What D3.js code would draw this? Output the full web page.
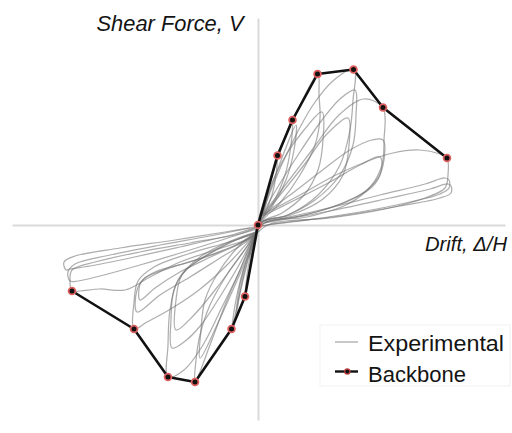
<!DOCTYPE html>
<html>
<head>
<meta charset="utf-8">
<script src="https://cdn.jsdelivr.net/npm/d3@7"></script>
<style>
  body { margin: 0; background: #fff; }
  text { font-family: "Liberation Sans", Arial, sans-serif; fill: #141414; }
</style>
</head>
<body>
<svg id="chart" width="512" height="433"></svg>
<script>
// Backbone envelope: [drift ratio %, shear force kN]
const backbone = [
  [-3.72, -132], [-2.48, -208], [-1.80, -304], [-1.26, -314], [-0.53, -208], [-0.26, -143],
  [0, 0], [0.39, 139], [0.69, 210], [1.19, 302], [1.91, 311], [2.50, 235], [3.78, 134]
];

// Recorded hysteresis cycles: [drift ratio %, shear force kN]
const cycle01 = [[-0.06,-16],[0,0],[0.08,32],[0.20,70],[0.16,44],[0.08,18],[0,0],[-0.08,-30],[-0.18,-66],[-0.14,-42],[-0.06,-18],[0,-2]];
const cycle02 = [[-0.04,-10],[0.02,14],[0.16,64],[0.28,106],[0.38,138],[0.36,100],[0.28,60],[0.14,24],[0.02,2],[-0.06,-26],[-0.16,-80],[-0.26,-142],[-0.22,-100],[-0.14,-54],[-0.06,-22],[0,-2]];
const cycle03 = [[-0.04,-14],[0.04,16],[0.20,74],[0.44,146],[0.68,210],[0.66,160],[0.54,100],[0.30,44],[0.06,8],[-0.06,-22],[-0.24,-86],[-0.40,-154],[-0.52,-208],[-0.46,-160],[-0.34,-106],[-0.16,-50],[-0.04,-14]];
const cycle04 = [[-0.04,-14],[0.06,18],[0.28,80],[0.54,150],[0.76,200],[0.72,150],[0.56,90],[0.28,36],[0.04,6],[-0.08,-26],[-0.24,-80],[-0.36,-134],[-0.44,-186],[-0.40,-142],[-0.30,-94],[-0.14,-46],[-0.02,-10]];
const cycle05 = [[-0.04,-14],[0.06,22],[0.28,100],[0.54,174],[0.84,240],[1.20,302],[1.22,260],[1.24,214],[1.14,160],[0.84,100],[0.44,44],[0.10,10],[-0.08,-26],[-0.36,-90],[-0.66,-160],[-0.96,-240],[-1.26,-314],[-1.24,-270],[-1.16,-220],[-0.96,-160],[-0.60,-96],[-0.20,-40],[-0.02,-10]];
const cycle06 = [[-0.04,-14],[0.08,22],[0.26,80],[0.56,140],[0.92,190],[1.28,226],[1.30,170],[1.20,110],[0.92,60],[0.48,24],[0.08,6],[-0.08,-26],[-0.26,-74],[-0.52,-134],[-0.82,-200],[-1.16,-266],[-1.14,-210],[-1.06,-150],[-0.80,-96],[-0.36,-40],[-0.04,-14]];
const cycle07 = [[0.08,20],[0.30,80],[0.66,160],[1.10,240],[1.52,290],[1.92,312],[1.90,250],[1.84,190],[1.64,120],[1.20,60],[0.60,20],[0.10,6],[-0.12,-30],[-0.36,-90],[-0.70,-160],[-1.10,-240],[-1.48,-290],[-1.80,-304],[-1.80,-240],[-1.76,-170],[-1.60,-110],[-1.16,-64],[-0.50,-30],[-0.04,-14]];
const cycle08 = [[0.08,20],[0.36,70],[0.80,140],[1.28,210],[1.66,254],[1.94,270],[1.96,220],[1.90,160],[1.64,100],[1.14,50],[0.54,18],[0.08,6],[-0.12,-30],[-0.38,-80],[-0.74,-140],[-1.14,-200],[-1.48,-234],[-1.72,-246],[-1.74,-190],[-1.68,-130],[-1.44,-90],[-0.94,-56],[-0.40,-28],[-0.04,-14]];
const cycle09 = [[0.08,18],[0.44,60],[0.92,120],[1.36,180],[1.80,214],[1.82,160],[1.70,100],[1.30,52],[0.66,20],[0.08,6],[-0.12,-28],[-0.44,-74],[-0.86,-130],[-1.28,-180],[-1.64,-210],[-1.64,-150],[-1.52,-100],[-1.12,-66],[-0.54,-34],[-0.04,-16]];
const cycle10 = [[0.10,22],[0.50,74],[1.08,150],[1.62,220],[2.12,252],[2.50,234],[2.52,170],[2.48,120],[2.26,78],[1.80,42],[0.98,16],[0.14,4],[-0.16,-30],[-0.62,-80],[-1.18,-130],[-1.78,-170],[-2.22,-194],[-2.48,-208],[-2.48,-155],[-2.40,-112],[-2.08,-84],[-1.40,-58],[-0.58,-34],[-0.04,-16]];
const cycle11 = [[0.10,20],[0.64,60],[1.24,106],[1.84,150],[2.28,170],[2.50,170],[2.52,130],[2.40,94],[2.04,60],[1.44,34],[0.74,16],[0.12,4],[-0.16,-28],[-0.76,-66],[-1.36,-104],[-1.96,-140],[-2.42,-174],[-2.42,-130],[-2.26,-106],[-1.76,-86],[-0.96,-60],[-0.26,-32],[-0.02,-14]];
const cycle12 = [[0.10,18],[0.74,50],[1.44,86],[2.04,120],[2.44,136],[2.46,106],[2.28,76],[1.74,46],[0.94,20],[0.12,4],[-0.16,-26],[-0.86,-60],[-1.56,-94],[-2.06,-126],[-2.36,-150],[-2.34,-114],[-2.06,-94],[-1.36,-74],[-0.56,-46],[-0.04,-16]];
const cycle13 = [[0.12,22],[0.84,60],[1.64,104],[2.70,144],[3.24,150],[3.64,142],[3.78,134],[3.80,100],[3.74,74],[3.34,54],[2.54,32],[1.44,14],[0.24,2],[-0.16,-26],[-0.86,-50],[-1.56,-74],[-2.16,-104],[-2.66,-130],[-3.16,-128],[-3.56,-132],[-3.72,-132],[-3.76,-110],[-3.72,-90],[-3.26,-74],[-2.36,-54],[-1.36,-36],[-0.46,-20],[-0.02,-8]];
const cycle14 = [[0.14,6],[1.24,30],[2.44,60],[3.34,82],[3.74,94],[3.82,90],[3.82,74],[3.64,62],[3.04,46],[2.04,26],[0.84,8],[0.08,-2],[-0.36,-18],[-1.36,-50],[-2.36,-80],[-3.16,-102],[-3.60,-112],[-3.76,-112],[-3.80,-94],[-3.66,-78],[-2.96,-60],[-1.96,-40],[-0.96,-22],[-0.16,-6]];
const cycle15 = [[0.14,4],[1.44,28],[2.64,54],[3.44,72],[3.80,82],[3.86,78],[3.86,64],[3.64,54],[2.84,38],[1.64,18],[0.44,4],[0,-4],[-0.46,-18],[-1.56,-44],[-2.56,-66],[-3.36,-82],[-3.76,-88],[-3.84,-90],[-3.88,-74],[-3.66,-62],[-2.76,-46],[-1.66,-30],[-0.66,-14],[-0.06,-4]];

const experimental = [cycle01, cycle02, cycle03, cycle04, cycle05, cycle06, cycle07, cycle08,
                      cycle09, cycle10, cycle11, cycle12, cycle13, cycle14, cycle15];

const legendLabels = ["Experimental", "Backbone"];
const xTitle = "Drift, \u0394/H";
const yTitle = "Shear Force, V";

const svg = d3.select("#chart");

const x = d3.scaleLinear().domain([-4.92, 4.94]).range([12, 505]);
const y = d3.scaleLinear().domain([-390, 414]).range([420, 18]);

// Axes through the origin, drawn as bare lines
const axisColor = "#dadada";
svg.append("g")
  .attr("transform", `translate(0,${y(0)})`)
  .call(d3.axisBottom(x).tickValues([]).tickSizeOuter(0))
  .call(g => g.select(".domain").attr("stroke", axisColor).attr("stroke-width", 2));
svg.append("g")
  .attr("transform", `translate(${x(0)},0)`)
  .call(d3.axisLeft(y).tickValues([]).tickSizeOuter(0))
  .call(g => g.select(".domain").attr("stroke", axisColor).attr("stroke-width", 2));

// Hysteresis loops
const smooth = d3.line()
  .x(d => x(d[0]))
  .y(d => y(d[1]))
  .curve(d3.curveCatmullRom.alpha(0.5));

svg.append("g")
  .selectAll("path")
  .data(experimental)
  .join("path")
  .attr("d", smooth)
  .attr("fill", "none")
  .attr("stroke", "#737373")
  .attr("stroke-opacity", 0.58)
  .attr("stroke-width", 1.25);

// Backbone envelope
const straight = d3.line().x(d => x(d[0])).y(d => y(d[1]));
svg.append("path")
  .datum(backbone)
  .attr("d", straight)
  .attr("fill", "none")
  .attr("stroke", "#111")
  .attr("stroke-width", 2.6)
  .attr("stroke-linejoin", "round");

svg.append("g")
  .selectAll("circle")
  .data(backbone)
  .join("circle")
  .attr("cx", d => x(d[0]))
  .attr("cy", d => y(d[1]))
  .attr("r", 3.4)
  .attr("fill", "#111")
  .attr("stroke", "#e06060")
  .attr("stroke-width", 1.8);

// Axis titles
svg.append("text")
  .attr("x", 96.5).attr("y", 31)
  .attr("font-size", 22).attr("font-style", "italic")
  .attr("textLength", 147).attr("lengthAdjust", "spacingAndGlyphs")
  .text(yTitle);

svg.append("text")
  .attr("x", 425).attr("y", 251)
  .attr("font-size", 20).attr("font-style", "italic")
  .attr("textLength", 82).attr("lengthAdjust", "spacingAndGlyphs")
  .text(xTitle);

// Legend
const legend = svg.append("g");
legend.append("rect")
  .attr("x", 320).attr("y", 325).attr("width", 190).attr("height", 61)
  .attr("fill", "#fff").attr("stroke", "#f1f1f1").attr("stroke-width", 1);

legend.append("line")
  .attr("x1", 335).attr("x2", 358).attr("y1", 342).attr("y2", 342)
  .attr("stroke", "#c8c8c8").attr("stroke-width", 2);
legend.append("line")
  .attr("x1", 335).attr("x2", 358).attr("y1", 371.5).attr("y2", 371.5)
  .attr("stroke", "#111").attr("stroke-width", 2.4);
legend.append("circle")
  .attr("cx", 347.3).attr("cy", 371.5).attr("r", 2.6)
  .attr("fill", "#111").attr("stroke", "#c04040").attr("stroke-width", 1.2);

legend.selectAll("text")
  .data(legendLabels)
  .join("text")
  .attr("x", 368)
  .attr("y", (d, i) => 350.5 + i * 31)
  .attr("font-size", 22)
  .attr("textLength", (d, i) => i === 0 ? 136 : 98)
  .attr("lengthAdjust", "spacingAndGlyphs")
  .text(d => d);
</script>
</body>
</html>
